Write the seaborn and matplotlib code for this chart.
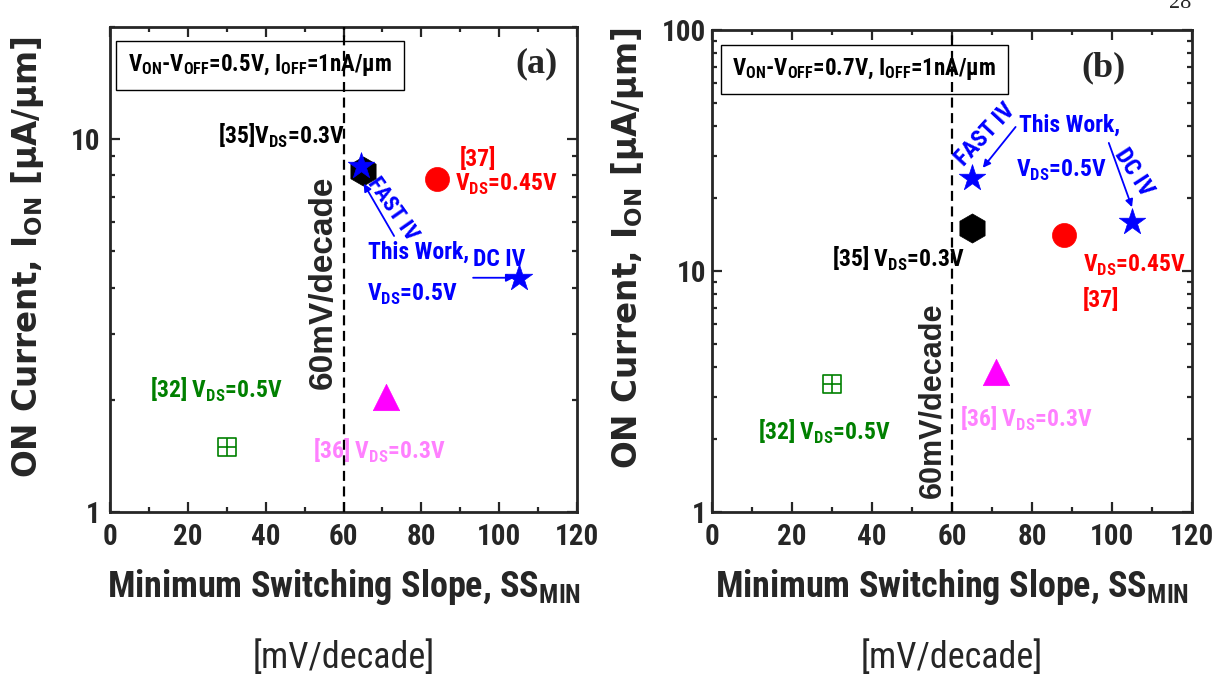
import matplotlib
matplotlib.use("Agg")
import matplotlib.pyplot as plt
import seaborn as sns
import pandas as pd
from matplotlib import font_manager as fm
from matplotlib.ticker import MultipleLocator, LogLocator, NullFormatter

names = sorted({f.name for f in fm.fontManager.ttflist})
narrow_cands = [n for n in names if ("Narrow" in n or "Condensed" in n)]
pref = ["Liberation Sans Narrow", "Arial Narrow", "Roboto Condensed",
        "DejaVu Sans Condensed", "Open Sans Condensed"]
NARROW = None
for p in pref:
    if p in names:
        NARROW = p
        break
if NARROW is None and narrow_cands:
    NARROW = narrow_cands[0]
NF = 1.0
if NARROW is None:
    NARROW = "Liberation Sans"
    NF = 0.84
WIDE = "DejaVu Sans"
ARIAL = "Liberation Sans"
SERIF = "Liberation Serif"

# ---------------- data ----------------
refs = ["This Work FAST IV", "This Work DC IV", "[35]", "[37]", "[36]", "[32]"]
markers = ["*", "*", "h", "o", "^", "s"]
colors = ["#0000FF", "#0000FF", "#000000", "#FF0000", "#FF00FF", "#008000"]

ss_a = [64.5, 105, 65, 84, 71, 30]
ion_a = [8.5, 4.25, 8.2, 7.8, 2.03, 1.49]

ss_b = [65, 105, 65, 88, 71, 30]
ion_b = [24.3, 16.0, 15.1, 14.1, 3.8, 3.4]

xticks = [0, 20, 40, 60, 80, 100, 120]
yticks_a = [1, 10]
yticks_b = [1, 10, 100]

sns.set_style("ticks")
plt.rcParams.update({
    "font.family": [NARROW, "DejaVu Sans"],
    "mathtext.fontset": "custom",
    "mathtext.sf": f"{NARROW}:bold",
    "mathtext.bf": f"{WIDE}:bold",
    "mathtext.rm": NARROW,
    "axes.linewidth": 2.0,
})

fig = plt.figure(figsize=(12.25, 6.77), dpi=100)
W, H = 1225, 677
ax_a = fig.add_axes([110 / W, 1 - 512 / H, (577 - 110) / W, (512 - 27) / H])
ax_b = fig.add_axes([712 / W, 1 - 512 / H, (1192 - 712) / W, (512 - 30) / H])

sizes = {"*": 400, "h": 440, "o": 300, "^": 360, "s": 170}


def draw_points(ax, ss, ion, order):
    df = pd.DataFrame({"ref": refs, "ss": ss, "ion": ion, "m": markers, "c": colors})
    for i in order:
        row = df.iloc[[i]]
        m = row["m"].iloc[0]
        c = row["c"].iloc[0]
        if m == "s":
            sns.scatterplot(data=row, x="ss", y="ion", marker="s", s=sizes[m],
                            facecolor="none", edgecolor=c, linewidth=1.2, ax=ax, zorder=4)
            sns.scatterplot(data=row, x="ss", y="ion", marker="+", s=sizes[m],
                            color=c, linewidth=1.2, ax=ax, zorder=4)
        else:
            sns.scatterplot(data=row, x="ss", y="ion", marker=m, s=sizes[m],
                            color=c, edgecolor=c, linewidth=0.5, ax=ax, zorder=4)


def style_axes(ax, ylim, yticks, ypad):
    ax.set_yscale("log")
    ax.set_xlim(0, 120)
    ax.set_ylim(*ylim)
    ax.set_xticks(xticks)
    ax.set_xticklabels([str(t) for t in xticks])
    ax.xaxis.set_minor_locator(MultipleLocator(10))
    ax.set_yticks(yticks)
    ax.set_yticklabels([str(t) for t in yticks])
    ax.yaxis.set_minor_locator(LogLocator(base=10, subs=range(2, 10)))
    ax.yaxis.set_minor_formatter(NullFormatter())
    ax.tick_params(which="both", direction="in", top=True, right=True, width=1.6)
    ax.tick_params(which="major", length=7)
    ax.tick_params(which="minor", length=3.5)
    ax.tick_params(axis="x", which="major", pad=8)
    ax.tick_params(axis="y", which="major", pad=ypad)
    for lab in ax.get_xticklabels() + ax.get_yticklabels():
        lab.set_fontfamily(NARROW)
        lab.set_fontweight("bold")
        lab.set_fontsize(21 * NF)
    for sp in ax.spines.values():
        sp.set_linewidth(2.0)
        sp.set_visible(True)
    ax.set_xlabel("")
    ax.set_ylabel("")
    ax.axvline(60, color="black", lw=1.6, ls=(0, (4.5, 2.5)), zorder=5)


def txt(ax, x, y, s, color, size=17, **kw):
    ax.text(x, y, s, color=color, fontsize=size * NF, fontfamily=NARROW,
            fontweight="bold", **kw)


def arrow(ax, tail, head):
    ax.annotate("", xy=head, xytext=tail,
                arrowprops=dict(arrowstyle="-|>", color="#0000FF", lw=1.3,
                                mutation_scale=11, shrinkA=0, shrinkB=0),
                zorder=6)


BLUE, RED, GREEN, PINK = "#0000FF", "#FF0000", "#008000", "#FF80FF"
DS = r"V$_{\mathsf{DS}}$"

# ---------------- panel (a) ----------------
draw_points(ax_a, ss_a, ion_a, [5, 4, 3, 2, 1, 0])
style_axes(ax_a, (1, 20), yticks_a, 7)
txt(ax_a, 4.6, 15.2,
    r"V$_{\mathsf{ON}}$-V$_{\mathsf{OFF}}$=0.5V, I$_{\mathsf{OFF}}$=1nA/μm", "black",
    size=16.5, va="baseline", zorder=3,
    bbox=dict(boxstyle="square,pad=0.5", fc="white", ec="black", lw=1.0))
ax_a.text(109.7, 15.9, "(a)", fontfamily=SERIF, fontweight="bold", fontsize=26,
          ha="center", va="center")
txt(ax_a, 60.6, 9.75, "[35]" + DS + "=0.3V", "black", ha="right", va="baseline")
txt(ax_a, 94.6, 8.47, "[37]", RED, ha="center", va="baseline")
txt(ax_a, 88.6, 7.26, DS + "=0.45V", RED, va="baseline")
txt(ax_a, 72.5, 6.5, "FAST IV", BLUE, size=16, rotation=-55, ha="center",
    va="center", rotation_mode="anchor")
arrow(ax_a, (73.0, 5.5), (65.2, 7.6))
txt(ax_a, 66.3, 4.78, "This Work,", BLUE, va="baseline")
txt(ax_a, 93.3, 4.58, "DC IV", BLUE, va="baseline")
arrow(ax_a, (93.3, 4.25), (103.8, 4.25))
txt(ax_a, 66.0, 3.69, DS + "=0.5V", BLUE, va="baseline")
ax_a.text(54.7, 4.12, "60mV/decade", fontfamily=ARIAL, fontweight="bold", fontsize=24,
          rotation=90, ha="center", va="center")
txt(ax_a, 10.3, 2.03, "[32] " + DS + "=0.5V", GREEN, va="baseline")
txt(ax_a, 52.2, 1.39, "[36] " + DS + "=0.3V", PINK, va="baseline")

# ---------------- panel (b) ----------------
draw_points(ax_b, ss_b, ion_b, [5, 4, 3, 2, 1, 0])
style_axes(ax_b, (1, 100), yticks_b, 4)
txt(ax_b, 5.0, 65.0,
    r"V$_{\mathsf{ON}}$-V$_{\mathsf{OFF}}$=0.7V, I$_{\mathsf{OFF}}$=1nA/μm", "black",
    size=16.5, va="baseline", zorder=3,
    bbox=dict(boxstyle="square,pad=0.5", fc="white", ec="black", lw=1.0))
ax_b.text(97.9, 69.5, "(b)", fontfamily=SERIF, fontweight="bold", fontsize=26,
          ha="center", va="center")
txt(ax_b, 68.4, 36.7, "FAST IV", BLUE, size=17, rotation=47, ha="center",
    va="center", rotation_mode="anchor")
arrow(ax_b, (75.9, 39.6), (67.7, 26.8))
txt(ax_b, 76.7, 37.7, "This Work,", BLUE, va="baseline")
txt(ax_b, 75.9, 24.5, DS + "=0.5V", BLUE, va="baseline")
txt(ax_b, 105.5, 25.7, "DC IV", BLUE, size=17, rotation=-57, ha="center",
    va="center", rotation_mode="anchor")
arrow(ax_b, (99.2, 34.0), (105.0, 18.4))
txt(ax_b, 30.1, 10.4, "[35] " + DS + "=0.3V", "black", va="baseline")
txt(ax_b, 92.7, 9.9, DS + "=0.45V", RED, va="baseline")
txt(ax_b, 92.7, 7.09, "[37]", RED, va="baseline")
ax_b.text(55.1, 2.92, "60mV/decade", fontfamily=ARIAL, fontweight="bold", fontsize=22,
          rotation=90, ha="center", va="center")
txt(ax_b, 11.5, 1.99, "[32] " + DS + "=0.5V", GREEN, va="baseline")
txt(ax_b, 62.1, 2.25, "[36] " + DS + "=0.3V", PINK, va="baseline")

# ---------------- axis labels ----------------
ylab = r"ON Current, I$_{\mathbf{ON}}$ [μA/μm]"
fig.text(28 / W, 1 - 257 / H, ylab, fontfamily=WIDE, fontweight="bold", fontsize=23.5,
         rotation=90, ha="center", va="center")
fig.text(628 / W, 1 - 248 / H, ylab, fontfamily=WIDE, fontweight="bold", fontsize=23.5,
         rotation=90, ha="center", va="center")
for xc in (343.5 / W, 952 / W):
    fig.text(xc, 1 - 597 / H, r"Minimum Switching Slope, SS$_{\mathsf{MIN}}$",
             fontfamily=NARROW, fontweight="bold", fontsize=26 * NF, ha="center",
             va="baseline")
    fig.text(xc, 1 - 668 / H, "[mV/decade]", fontfamily=NARROW, fontsize=26 * NF,
             ha="center", va="baseline")

fig.text(1180 / W, 1 - 8 / H, "28", fontfamily=SERIF, fontsize=16, ha="center",
         va="baseline")

fig.savefig("out.png", dpi=100)
